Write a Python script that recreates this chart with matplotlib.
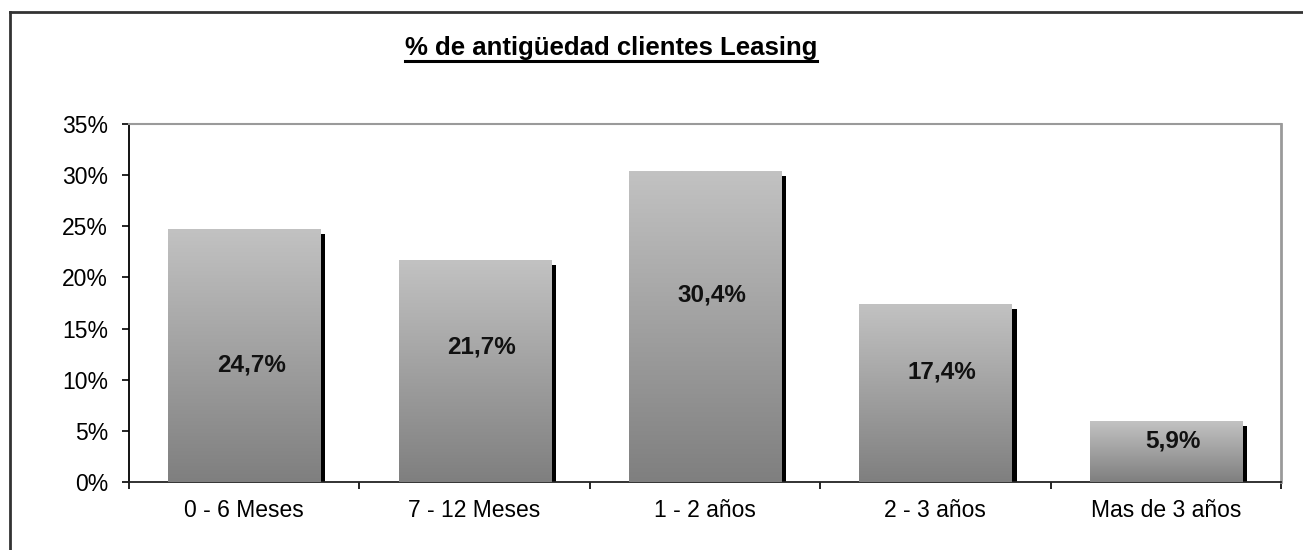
import matplotlib.pyplot as plt
import numpy as np
from matplotlib.colors import LinearSegmentedColormap
from matplotlib.lines import Line2D
from matplotlib.patches import Rectangle

CATEGORIES = ["0 - 6 Meses", "7 - 12 Meses", "1 - 2 años", "2 - 3 años", "Mas de 3 años"]
VALUES = [24.7, 21.7, 30.4, 17.4, 5.9]
VALUE_LABELS = ["24,7%", "21,7%", "30,4%", "17,4%", "5,9%"]
LABEL_Y = [11.4, 13.2, 18.3, 10.8, 4.0]
Y_TICKS = [0, 5, 10, 15, 20, 25, 30, 35]

plt.rcParams.update({"font.family": ["Liberation Sans", "DejaVu Sans"]})

GRAD = LinearSegmentedColormap.from_list("excel_grey", ["#7f7f7f", "#c2c2c2"])

fig = plt.figure(figsize=(13.03, 5.5), dpi=100)
ax = fig.add_axes([129 / 1303, 68 / 550, (1281 - 129) / 1303, (482 - 124) / 550])

bar_w = 0.66
shadow_w = 0.022
shadow_drop = 0.45
grad = np.linspace(0, 1, 256).reshape(-1, 1)

for i, (val, lab, ly) in enumerate(zip(VALUES, VALUE_LABELS, LABEL_Y)):
    x0 = i - bar_w / 2
    x1 = i + bar_w / 2
    ax.add_patch(Rectangle((x1, 0), shadow_w, val - shadow_drop,
                           facecolor="black", edgecolor="none", zorder=2))
    ax.imshow(grad, extent=[x0, x1, 0, val], origin="lower", aspect="auto",
              cmap=GRAD, zorder=3, interpolation="bilinear")
    ax.text(i + 0.03, ly, lab, ha="center", va="center",
            fontsize=17.5, fontweight="bold", color="#111111", zorder=4)

ax.set_xlim(-0.5, len(CATEGORIES) - 0.5)
ax.set_ylim(0, 35)

ax.set_yticks(Y_TICKS)
ax.set_yticklabels([f"{t}%" for t in Y_TICKS])
ax.set_xticks(range(len(CATEGORIES)))
ax.set_xticklabels(CATEGORIES)
ax.set_xticks(np.arange(-0.5, len(CATEGORIES)), minor=True)

ax.tick_params(axis="y", direction="out", length=5, width=1.2, pad=10,
               labelsize=16.5, colors="black")
ax.tick_params(axis="x", which="major", length=0, pad=12, labelsize=16.5)
ax.tick_params(axis="x", which="minor", direction="out", length=5, width=1.2)

ax.spines["left"].set_color("black")
ax.spines["left"].set_linewidth(1.3)
ax.spines["bottom"].set_color("#222222")
ax.spines["bottom"].set_linewidth(1.3)
ax.spines["top"].set_color("#9a9a9a")
ax.spines["top"].set_linewidth(1.5)
ax.spines["right"].set_color("#9a9a9a")
ax.spines["right"].set_linewidth(2)

# titulo subrayado
title = fig.text(611 / 1303, 1 - 48 / 550, "% de antigüedad clientes Leasing",
                 ha="center", va="center", fontsize=18.5, fontweight="bold")
fig.canvas.draw()
bb = title.get_window_extent()
fig.add_artist(Line2D([bb.x0 / 1303, bb.x1 / 1303], [(bb.y0 - 1) / 550] * 2,
                      color="black", linewidth=2.2))

# borde exterior del grafico
fig.add_artist(Line2D([10 / 1303, 1.0], [1 - 12 / 550] * 2, color="#333333", linewidth=2))
fig.add_artist(Line2D([10 / 1303] * 2, [0, 1 - 12 / 550], color="#333333", linewidth=2))

fig.savefig("out.png", dpi=100)
